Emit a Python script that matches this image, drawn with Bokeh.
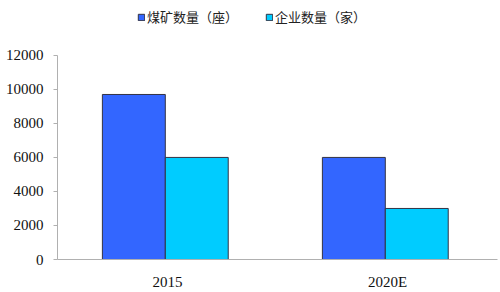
from bokeh.plotting import figure
from bokeh.models import FactorRange, Legend, LegendItem, ColumnDataSource, NumeralTickFormatter
from bokeh.transform import dodge
from bokeh.embed import file_html
from bokeh.resources import INLINE

categories = ["2015", "2020E"]
mines = [9700, 6000]
companies = [6000, 3000]
series_names = ["煤矿数量（座）", "企业数量（家）"]
y_ticks = [0, 2000, 4000, 6000, 8000, 10000, 12000]

src = ColumnDataSource(dict(cat=categories, mines=mines, companies=companies))

p = figure(width=500, height=292, output_backend="svg", toolbar_location=None,
           x_range=FactorRange(*categories, range_padding=0), y_range=(0, 14930),
           min_border_left=57, min_border_right=3, min_border_top=5, min_border_bottom=32)
p.outline_line_color = None
p.grid.grid_line_color = None
p.background_fill_color = "white"

r1 = p.vbar(x=dodge("cat", -0.153, range=p.x_range), top="mines", width=0.286, source=src,
            fill_color="#3366FF", line_color="#333344", line_width=1)
r2 = p.vbar(x=dodge("cat", 0.133, range=p.x_range), top="companies", width=0.286, source=src,
            fill_color="#00CCFF", line_color="#333344", line_width=1)

for ax in (p.xaxis[0], p.yaxis[0]):
    ax.axis_line_color = "#b0b0b0"
    ax.major_tick_line_color = "#b0b0b0"
    ax.minor_tick_line_color = None
    ax.major_label_text_font = "Liberation Serif"
    ax.major_label_text_font_size = "15px"
    ax.major_label_text_color = "#111111"

p.yaxis.ticker = y_ticks
p.yaxis.bounds = (0, 12000)
p.yaxis.major_tick_in = 0
p.yaxis.major_tick_out = 4
p.yaxis.major_label_standoff = 10
p.yaxis.formatter = NumeralTickFormatter(format="0")
p.xaxis.major_tick_line_color = None
p.xaxis.major_tick_in = 0
p.xaxis.major_tick_out = 0
p.xaxis.major_label_standoff = 14

legend = Legend(items=[LegendItem(label=series_names[0], renderers=[r1]),
                       LegendItem(label=series_names[1], renderers=[r2])],
                orientation="horizontal", location=(80, 233),
                label_text_font="Noto Sans CJK SC", label_text_font_size="13px",
                label_text_color="#222222", glyph_width=8, glyph_height=8,
                label_standoff=2, spacing=27, padding=0, margin=0,
                border_line_color=None, background_fill_alpha=0)
p.add_layout(legend, "center")

open("out.html", "w").write(file_html(p, INLINE))
